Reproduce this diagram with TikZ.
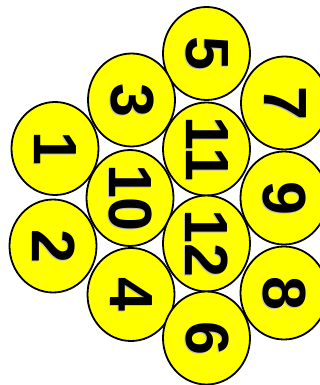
\documentclass[tikz,border=0pt]{standalone}
\usepackage{fontspec}
\setmainfont{Liberation Sans}
\usetikzlibrary{shapes.geometric}
\definecolor{ballyellow}{RGB}{255,255,0}
\newcommand\shnum[1]{\makebox[0pt][l]{\raisebox{-1pt}{\hspace{1pt}\textcolor{black!25}{#1}}}#1}
\begin{document}
\begin{tikzpicture}[x=1pt,y=1pt,
  ball/.style={ellipse, draw=black, line width=1.8pt, fill=ballyellow,
    minimum width=93pt, minimum height=87pt, inner sep=0pt, rotate=-90,
    font=\fontsize{61}{61}\selectfont\bfseries}]
\useasboundingbox (0,0) rectangle (320,385);
\clip (0,0) rectangle (320,385);
\node[ball] (n5)  at (206.5,331.5) {\shnum{5}};
\node[ball] (n7)  at (284.5,282)   {\shnum{7}};
\node[ball] (n3)  at (131.5,285)   {\shnum{3}};
\node[ball] (n1)  at (55,236.5)    {\shnum{1}};
\node[ball] (n11) at (206.5,236)   {\shnum{11}};
\node[ball] (n10) at (130,187)     {\shnum{10}};
\node[ball] (n9)  at (284,187)     {\shnum{9}};
\node[ball] (n2)  at (53,139)      {\shnum{2}};
\node[ball] (n12) at (206.5,141.5) {\shnum{12}};
\node[ball] (n4)  at (131,90.5)    {\shnum{4}};
\node[ball] (n8)  at (284,92)      {\shnum{8}};
\node[ball] (n6)  at (206.5,47)    {\shnum{6}};
\end{tikzpicture}
\end{document}
